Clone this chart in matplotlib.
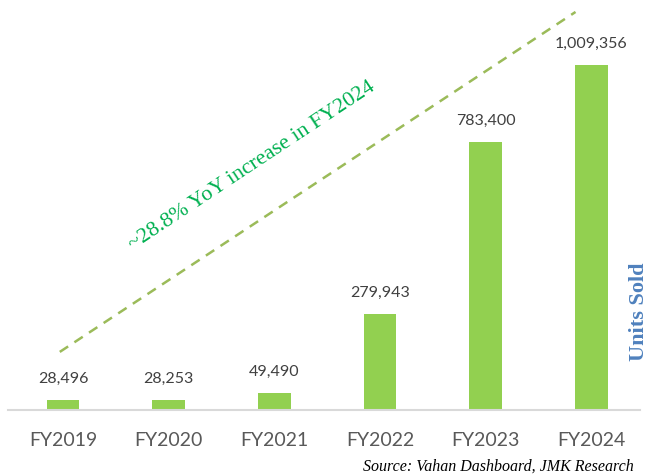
import matplotlib.pyplot as plt

years = ['FY2019', 'FY2020', 'FY2021', 'FY2022', 'FY2023', 'FY2024']
units = [28496, 28253, 49490, 279943, 783400, 1009356]

fig = plt.figure(figsize=(6.48, 4.76), dpi=100)
ax = fig.add_axes([8/648, 1 - 410/476, 632/648, 410/476])

x = range(len(years))
bars = ax.bar(x, units, width=0.31, color='#92D050')
for xi, v in zip(x, units):
    ax.text(xi, v + 42000, f'{v:,}', ha='center', va='bottom',
            fontsize=11.5, color='#404040', family='Lato')

ax.set_xlim(-0.52, 5.46)
ax.set_ylim(0, 1.2e6)
ax.set_xticks(list(x))
ax.set_xticklabels(years, fontsize=14, color='#595959', family='Lato')
ax.tick_params(axis='x', length=0, pad=16)
ax.set_yticks([])
for s in ['top', 'left', 'right']:
    ax.spines[s].set_visible(False)
ax.spines['bottom'].set_color('#D9D9D9')
ax.spines['bottom'].set_linewidth(1.5)

# trend annotation
ax.plot([-0.03, 4.85], [170000, 1165000], ls=(0, (4, 3)), color='#9BBB59', lw=1.8)
fig.text(252/648, 1 - 166/476, '~28.8% YoY increase in FY2024', rotation=33.5,
         ha='center', va='center', fontsize=15.8, color='#00B050',
         family='Liberation Serif', rotation_mode='anchor')

fig.text(0.971, 1 - 312/476, 'Units Sold', rotation=90, ha='left', va='center',
         fontsize=16, color='#4F81BD', family='Liberation Serif', fontweight='bold')
fig.text(634/648, 1 - 467/476, 'Source: Vahan Dashboard, JMK Research', ha='right',
         va='center', fontsize=11.5, style='italic', family='Liberation Serif')

fig.savefig('out.png', dpi=100)
